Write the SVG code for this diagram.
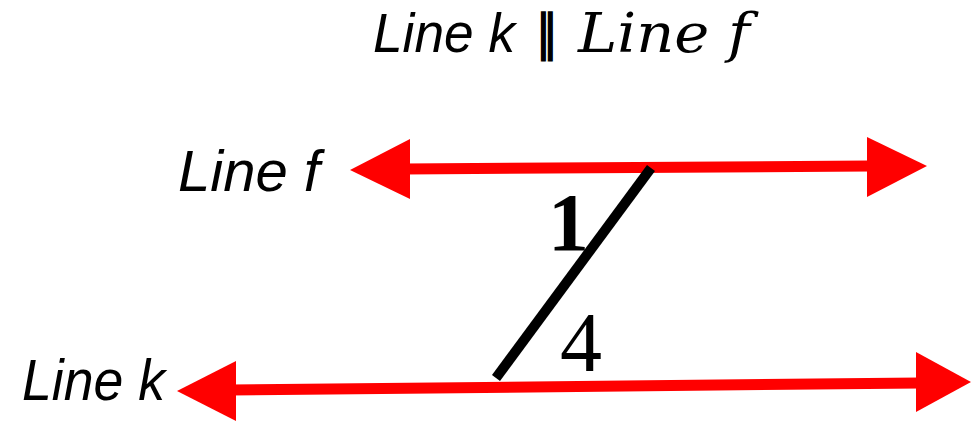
<svg xmlns="http://www.w3.org/2000/svg" width="973" height="423" viewBox="0 0 973 423">
<style>
.red{fill:#ff0000;stroke:none}
.shaft{stroke:#ff0000;stroke-width:11;fill:none}
.lbl{font-family:"Liberation Sans",Arial,sans-serif;font-style:italic;fill:#000}
.num{font-family:"Liberation Serif","Times New Roman",serif;fill:#000}
</style>
<rect width="973" height="423" fill="#fff"/>
<g id="title">
<text class="lbl" x="373" y="52" font-size="55" textLength="142" lengthAdjust="spacingAndGlyphs">Line k</text>
<text x="0" y="0" font-family="DejaVu Sans,sans-serif" font-size="34" fill="#000" stroke="#000" stroke-width="1.2" transform="translate(536 50) scale(1.3 1.45)">∥</text>
<text x="578" y="52" font-family="DejaVu Serif,serif" font-style="italic" font-size="55" textLength="172" lengthAdjust="spacingAndGlyphs" fill="#000">Line f</text>
</g>
<g id="lineF">
<line class="shaft" x1="405" y1="169" x2="870" y2="166"/>
<polygon class="red" points="350,170 410,139 410,199"/>
<polygon class="red" points="927,166 867,137 867,197"/>
<text class="lbl" x="178" y="191" font-size="57" textLength="142" lengthAdjust="spacingAndGlyphs">Line f</text>
</g>
<g id="lineK">
<line class="shaft" x1="230" y1="390" x2="920" y2="383" stroke-width="12"/>
<polygon class="red" points="177,391 236,361 236,421"/>
<polygon class="red" points="971,382 916,352 916,412"/>
<text class="lbl" x="22" y="400" font-size="57" textLength="143" lengthAdjust="spacingAndGlyphs">Line k</text>
</g>
<g id="transversal">
<line x1="651" y1="168" x2="496" y2="378" stroke="#000" stroke-width="10"/>
</g>
<g id="angles">
<text class="num" x="548" y="250" font-size="82" font-weight="bold">1</text>
<text class="num" x="560" y="371" font-size="84">4</text>
</g>
</svg>
